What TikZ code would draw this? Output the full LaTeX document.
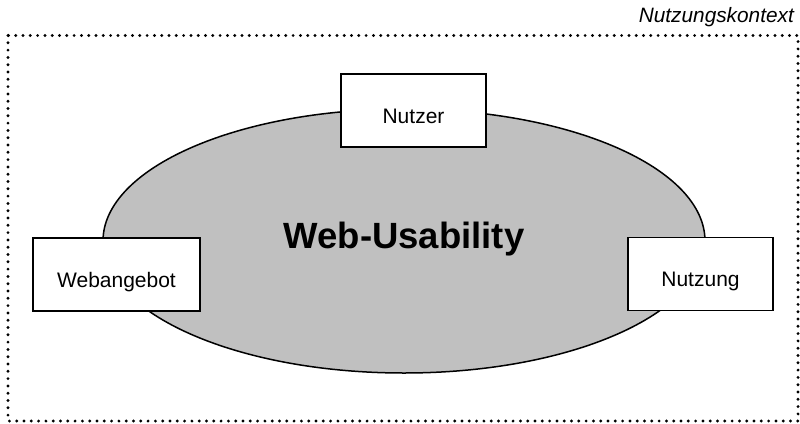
\documentclass[tikz,border=0pt]{standalone}
\usepackage{fontspec}
\setmainfont{Liberation Sans}
\usetikzlibrary{shapes.geometric}
\begin{document}
\begin{tikzpicture}[x=1pt,y=-1pt,
  boxnode/.style={draw=black, fill=white, line width=1.6pt, inner sep=0pt,
    minimum height=73pt, text height=25pt, text depth=0pt,
    font=\fontsize{21pt}{24pt}\selectfont},
  frameline/.style={line width=3.2pt, line cap=round, dash pattern=on 0pt off 7.3pt},
]
\useasboundingbox (0,0) rectangle (800,423);
\draw[frameline] (8,35.5) rectangle (798,421);
\node[anchor=base east, inner sep=0pt, font=\fontsize{20.8pt}{24pt}\selectfont\itshape] (ctx) at (794,22) {Nutzungskontext};
\node[ellipse, draw=black, fill={rgb,255:red,192;green,192;blue,192}, line width=1.5pt,
  minimum width=602pt, minimum height=264pt, inner sep=0pt,
  text height=25pt, text depth=11pt,
  font=\fontsize{36.5pt}{40pt}\selectfont\bfseries] (wu) at (404,241) {Web-Usability};
\node[boxnode, minimum width=145pt] (nutzer) at (413.5,110.5) {Nutzer};
\node[boxnode, minimum width=167pt] (web) at (116.5,274.5) {Webangebot};
\node[boxnode, minimum width=145pt] (nutzung) at (700.5,274) {Nutzung};
\end{tikzpicture}
\end{document}
